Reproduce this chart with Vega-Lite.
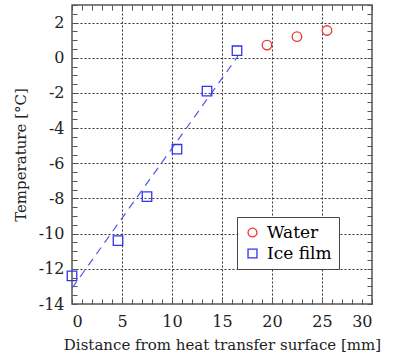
{
  "$schema": "https://vega.github.io/schema/vega-lite/v6.json",
  "autosize": "none",
  "width": 300,
  "height": 299,
  "padding": {"left": 72, "top": 5, "right": 34, "bottom": 57},
  "background": "white",
  "config": {
    "font": "DejaVu Serif",
    "view": {"stroke": "#555555", "strokeWidth": 1.5},
    "axis": {"domain": false, "labelFont": "DejaVu Serif", "titleFont": "DejaVu Serif", "labelColor": "#222222", "titleColor": "#222222", "titleFontWeight": "normal", "labelFontSize": 16, "titleFontSize": 15},
    "legend": {"labelFont": "DejaVu Serif"}
  },
  "datasets": {
    "fit": [
      {"x": 0, "t": -13.1},
      {"x": 16.6, "t": 0.1}
    ],
    "pts": [
      {"x": 0, "t": -12.4, "series": "Ice film"},
      {"x": 4.6, "t": -10.4, "series": "Ice film"},
      {"x": 7.5, "t": -7.9, "series": "Ice film"},
      {"x": 10.5, "t": -5.2, "series": "Ice film"},
      {"x": 13.5, "t": -1.9, "series": "Ice film"},
      {"x": 16.5, "t": 0.4, "series": "Ice film"},
      {"x": 19.5, "t": 0.72, "series": "Water"},
      {"x": 22.5, "t": 1.2, "series": "Water"},
      {"x": 25.5, "t": 1.55, "series": "Water"}
    ]
  },
  "resolve": {"axis": {"x": "independent", "y": "independent"}},
  "layer": [
    {
      "data": {"name": "fit"},
      "mark": {"type": "line", "color": "#5555ee", "strokeWidth": 1.2, "strokeDash": [8, 6]},
      "encoding": {
        "x": {
          "field": "x", "type": "quantitative",
          "scale": {"domain": [0, 30], "nice": false, "zero": false},
          "axis": {
            "orient": "bottom",
            "title": "Distance from heat transfer surface [mm]",
            "values": [0,1,2,3,4,5,6,7,8,9,10,11,12,13,14,15,16,17,18,19,20,21,22,23,24,25,26,27,28,29,30],
            "labelExpr": "datum.value % 5 === 0 ? datum.value + '' : ''",
            "tickColor": "#555555",
            "tickSize": -5,
            "labelPadding": 14,
            "titlePadding": 8,
            "grid": true,
            "gridColor": "#333333",
            "gridDash": [2, 2],
            "gridWidth": 1,
            "gridOpacity": {"condition": {"test": "datum.value % 5 === 0 && datum.value > 0 && datum.value < 30", "value": 1}, "value": 0}
          }
        },
        "y": {
          "field": "t", "type": "quantitative",
          "scale": {"domain": [-14, 3], "nice": false, "zero": false},
          "axis": {
            "orient": "left",
            "title": "Temperature [°C]",
            "values": [-14,-13.5,-13,-12.5,-12,-11.5,-11,-10.5,-10,-9.5,-9,-8.5,-8,-7.5,-7,-6.5,-6,-5.5,-5,-4.5,-4,-3.5,-3,-2.5,-2,-1.5,-1,-0.5,0,0.5,1,1.5,2,2.5,3],
            "labelExpr": "datum.value % 2 === 0 ? datum.value + '' : ''",
            "tickColor": "#555555",
            "tickSize": -5,
            "labelPadding": 13,
            "titlePadding": 10,
            "grid": true,
            "gridColor": "#333333",
            "gridDash": [2, 2],
            "gridWidth": 1,
            "gridOpacity": {"condition": {"test": "datum.value % 2 === 0 && datum.value > -14", "value": 1}, "value": 0}
          }
        }
      }
    },
    {
      "data": {"name": "pts"},
      "mark": {"type": "point", "filled": false, "strokeWidth": 1.3, "size": 90, "opacity": 1},
      "encoding": {
        "x": {
          "field": "x", "type": "quantitative",
          "axis": {
            "orient": "top", "title": null, "labels": false, "grid": false,
            "values": [0,1,2,3,4,5,6,7,8,9,10,11,12,13,14,15,16,17,18,19,20,21,22,23,24,25,26,27,28,29,30],
            "tickColor": "#555555", "tickSize": -5
          }
        },
        "y": {
          "field": "t", "type": "quantitative",
          "axis": {
            "orient": "right", "title": null, "labels": false, "grid": false,
            "values": [-14,-13.5,-13,-12.5,-12,-11.5,-11,-10.5,-10,-9.5,-9,-8.5,-8,-7.5,-7,-6.5,-6,-5.5,-5,-4.5,-4,-3.5,-3,-2.5,-2,-1.5,-1,-0.5,0,0.5,1,1.5,2,2.5,3],
            "tickColor": "#555555", "tickSize": -5
          }
        },
        "color": {
          "field": "series", "type": "nominal",
          "scale": {"domain": ["Water", "Ice film"], "range": ["#ee3333", "#3333ee"]},
          "legend": {
            "title": null,
            "orient": "none",
            "legendX": 165,
            "legendY": 212,
            "strokeColor": "#444444",
            "fillColor": "white",
            "padding": 7,
            "labelFontSize": 17,
            "rowPadding": 3,
            "symbolSize": 80,
            "symbolStrokeWidth": 1.3,
            "labelOffset": 6,
            "encode": {
              "labels": {"update": {"fill": {"signal": "datum.value === 'Water' ? '#ee3333' : '#3333ee'"}}}
            }
          }
        },
        "shape": {
          "field": "series", "type": "nominal",
          "scale": {"domain": ["Water", "Ice film"], "range": ["circle", "square"]}
        }
      }
    }
  ]
}
